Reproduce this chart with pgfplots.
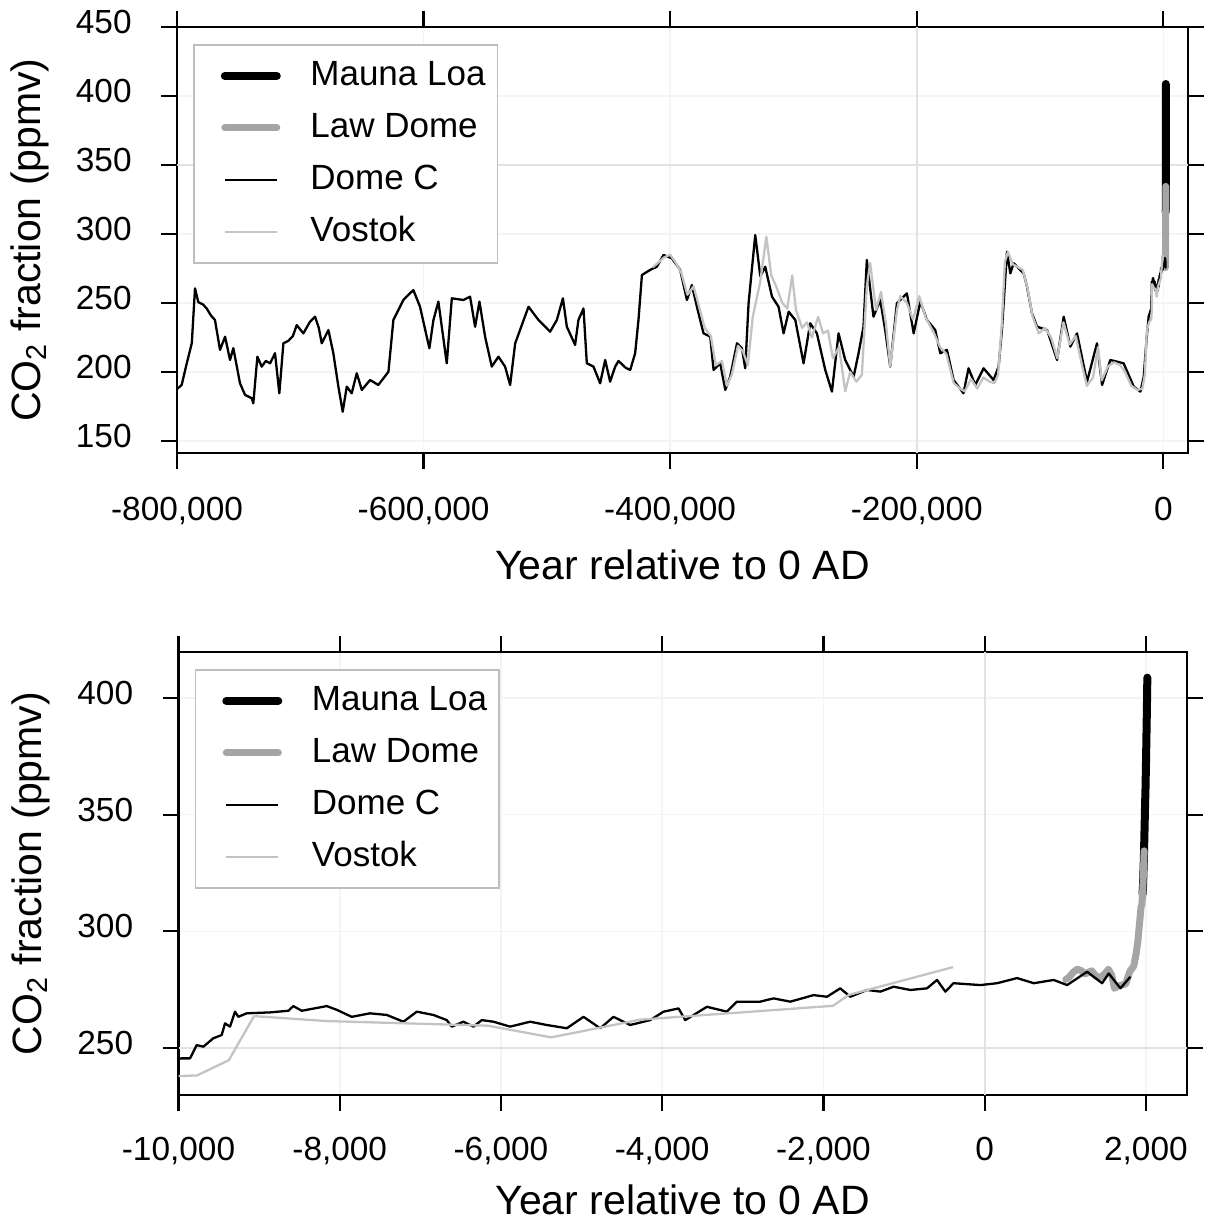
\documentclass[border=0pt]{standalone}
\usepackage{fontspec}
\setmainfont{Liberation Sans}
\usepackage{pgfplots}
\usepackage{pgfplotstable}
\pgfplotsset{compat=1.18}
\definecolor{lawdome}{RGB}{165,165,165}
\definecolor{vostokc}{RGB}{195,195,195}
\definecolor{gridc}{RGB}{244,244,244}
\definecolor{gridd}{RGB}{226,226,226}
\definecolor{legbox}{RGB}{190,190,190}

\pgfplotstableread{
year co2
1959 315.98
1960 316.91
1965 320.04
1970 325.68
1975 331.11
1980 338.76
1985 346.35
1990 354.39
1995 360.82
2000 369.65
2005 379.80
2010 389.90
2015 401.01
2018 408.72
}\maunaloa

\pgfplotstableread{
year co2
1006 279.4
1046 280.3
1096 282.4
1146 283.8
1196 283.2
1246 281.8
1327 283.1
1387 280.6
1437 280.4
1497 282.0
1535 283.8
1577 281.1
1610 275.6
1650 276.6
1700 277.0
1750 277.5
1800 282.8
1850 285.2
1880 290.7
1900 295.7
1920 303.0
1940 310.5
1950 311.3
1960 316.7
1970 325.2
1978 334.5
}\lawdome

\pgfplotstableread{
year co2
-799500 188
-796200 190.6
-792100 206.3
-788000 220.8
-785400 260.6
-782700 250.6
-779000 249
-775900 246
-772500 241
-769200 237.7
-765100 216
-761000 225.6
-757000 208.7
-754300 217.3
-748900 191.8
-744800 183.4
-739400 181
-738100 177.3
-734800 211.1
-731300 203.9
-728000 208
-724500 206.3
-720500 213.6
-717000 184.6
-713700 220.8
-709700 222.6
-706000 226
-702900 234
-697500 228
-692100 236.5
-688000 240.1
-685000 232
-682600 220.8
-677200 230.4
-673200 213.6
-669100 189.4
-665600 171.2
-662300 189.4
-658300 184.6
-654200 199.1
-650100 187
-643400 194.2
-636700 190.6
-628500 200.2
-624500 237.7
-616400 252.2
-608300 259.4
-602900 247.3
-595300 217.2
-592000 237.7
-588000 251
-581200 206.3
-577100 253.4
-567700 252.2
-562300 254.6
-558200 232.8
-554700 251
-550100 225.6
-544700 203.9
-539300 211.1
-533900 203.9
-529800 190.6
-525700 220.8
-514900 247.3
-506800 237.7
-497400 229.2
-491900 237.7
-487000 253.4
-483800 232.8
-477100 219.6
-474400 237.7
-470300 246
-467600 206.3
-462200 203.9
-456800 191.8
-452700 208.7
-448700 193
-444600 203.9
-441900 208
-436000 203
-432400 201.5
-428400 213.6
-425700 237.7
-422900 270.3
-416200 274
-410800 276.3
-405400 284.8
-398600 282.4
-391900 274
-386400 252.2
-382400 263
-378300 247.3
-372900 228
-367500 225.6
-364800 201.5
-359400 206.3
-355300 187
-351300 196.6
-345800 220.8
-341800 217.2
-339100 202.7
-336400 249.8
-331000 299.3
-326900 269.4
-322900 276.3
-317400 254.6
-312100 247.3
-308000 228
-303900 243.7
-298500 237.7
-291800 206.3
-286400 235.3
-281000 228
-274200 201.5
-268800 185.8
-263400 228
-258000 208.7
-251200 196.6
-247200 213.6
-243200 232.8
-240500 281.2
-235100 240.1
-229600 252.2
-225600 230.4
-221500 203.9
-216100 249.8
-208000 257
-202500 228
-197100 251
-191700 237.7
-185000 230.4
-180900 213.6
-175500 216
-170100 194.2
-162100 184.6
-158000 202.7
-152500 190.6
-145800 202.7
-137700 194.2
-133600 203.9
-130900 230.4
-126800 287.2
-124100 271.5
-121400 278.8
-113300 271.5
-110600 261.9
-106500 242.5
-102400 232.8
-94300 230.4
-86200 208.7
-80800 240.1
-75400 218.4
-70000 228
-61900 193
-53800 220.8
-49700 190.6
-43000 208.7
-32200 206.3
-24000 189.4
-18600 185.8
-15900 196.6
-13500 225
-11900 240.1
-9960 245.6
-9857 245.6
-9774 251.3
-9692 250.6
-9568 254.2
-9464 255.6
-9423 260.6
-9361 259.2
-9299 265.6
-9258 263.4
-9154 264.9
-8864 265.3
-8637 266
-8575 268
-8471 266
-8161 268
-8037 266.4
-7851 263.4
-7624 264.9
-7416 264.2
-7210 261.3
-7044 265.6
-6838 264.2
-6672 262
-6610 259.2
-6466 261.3
-6342 259.2
-6237 262
-6093 261.3
-5886 259.2
-5638 261.3
-5431 259.9
-5183 258.5
-4976 263.4
-4769 258.5
-4604 263.4
-4397 259.9
-4149 262
-3984 265.6
-3797 267
-3714 262
-3445 267.7
-3197 265.6
-3073 269.9
-2784 269.9
-2619 271.3
-2411 269.9
-2122 272.7
-1956 272
-1791 275.6
-1667 272
-1459 274.9
-1294 274.2
-1129 276.3
-922 274.9
-715 275.6
-591 279.2
-488 274.2
-385 277.8
-53 277
154 277.8
402 280
609 277.8
856 279.2
1023 277
1271 282.7
1457 277.8
1539 282
1684 275.6
1808 280.6
}\domec

\pgfplotstableread{
year co2
-414000 276
-410000 279
-405000 283
-400000 285
-396000 280
-391000 272
-386000 256
-381000 262
-377000 249
-372000 232
-367000 226
-363000 205
-358000 208
-354000 190
-350000 198
-345000 219
-341000 215
-337000 205
-333000 240
-327000 265
-322000 298
-318000 270
-314000 262
-309000 250
-305000 246
-301000 270
-298000 245
-293000 232
-289000 236
-285000 225
-280000 240
-276000 228
-272000 230
-268000 210
-263000 218
-258000 186
-254000 200
-249000 193
-244500 198
-240500 262
-237800 279
-233000 245
-229000 258
-225000 235
-221500 204
-216000 245
-213400 255
-208000 250
-203000 238
-198000 255
-193000 240
-186000 228
-181000 218
-176000 213
-170000 192
-165000 188
-161000 186
-156000 195
-151000 188
-146000 196
-141000 193
-137000 192
-134000 198
-131000 235
-128500 280
-126000 287
-122000 278
-118000 276
-114000 274
-110000 260
-106000 240
-101000 228
-96000 232
-91000 225
-86000 210
-81000 236
-76000 220
-71000 226
-66000 205
-62000 190
-57000 196
-53000 218
-50000 194
-45000 204
-40000 207
-35000 205
-31000 200
-26000 190
-21000 187
-17000 188
-15000 198
-13400 230
-11455 236.2
-9769 238.3
-9376 244.8
-9063 263.7
-8173 261.6
-6163 259.6
-5377 254.6
-4270 262.2
-1883 268.1
-1684 272.8
-392 284.7
}\vostok

\pgfplotsset{
  legend image code/.code={\path (-7.5pt,0pt); \draw[#1] (0pt,0pt) -- (26pt,0pt);},
  co2axis/.style={
    scale only axis,
    scaled ticks=false,
    axis line style={line width=1.2pt},
    tick style={line width=1.1pt, black},
    major tick length=8pt,
    tick align=outside,
    grid=major,
    major grid style={gridc, line width=0.8pt},
    tick label style={font=\fontsize{16.7}{16.7}\selectfont},
    label style={font=\fontsize{20.5}{20.5}\selectfont},
    yticklabel style={anchor=east, inner sep=0pt, xshift=-14.5pt, yshift=2.5pt},
    xticklabel style={anchor=base, inner sep=0pt},
    ylabel={CO\textsubscript{2} fraction (ppmv)},
    xlabel={Year relative to 0 AD},
    legend cell align=left,
    legend style={at={(0,1)}, anchor=north west, xshift=8pt, yshift=-8.5pt,
      draw=legbox, line width=0.8pt, inner xsep=6pt, inner ysep=2.5pt,
      font=\fontsize{17.5}{17.5}\selectfont,
      nodes={inner sep=0pt, text height=17.8pt, text depth=8.2pt},
      row sep=0pt,
      /tikz/every odd column/.append style={column sep=14.8pt}},
    extra tick style={major grid style={gridd, line width=1pt}, major tick length=0pt},
  },
  ml/.style={black, line width=4pt, line cap=round},
  ld/.style={lawdome, line width=3.5pt, line cap=round, line join=round},
  dc/.style={black, line width=1.15pt, line join=round},
  vk/.style={vostokc, line width=1.15pt, line join=round},
}

\begin{document}
\begin{tikzpicture}
\useasboundingbox (0,0) rectangle (605pt,-611.5pt);
\begin{axis}[co2axis,
  at={(88.5pt,-13.5pt)}, anchor=north west,
  width=505.5pt, height=213pt,
  xmin=-800000, xmax=20000, ymin=141.3, ymax=450,
  xticklabel style={yshift=-25.5pt},
  xtick={-800000,-600000,-400000,-200000,0},
  xticklabels={{-800,000},{-600,000},{-400,000},{-200,000},0},
  ytick={150,200,250,300,350,400,450},
  yticklabels={150,200,250,300,350,400,450},
  extra x ticks={-200000}, extra x tick labels={},
  extra y ticks={350}, extra y tick labels={},
  xlabel style={at={([yshift=-56pt]axis description cs:0.5,0)}, anchor=center},
  ylabel style={at={([xshift=-73.5pt]axis description cs:0,0.5)}, anchor=center},
]
\addplot[ml] table[x=year,y=co2] {\maunaloa};
\addplot[ld] table[x=year,y=co2] {\lawdome};
\addplot[dc] table[x=year,y=co2] {\domec};
\addplot[vk] table[x=year,y=co2] {\vostok};
\legend{Mauna Loa, Law Dome, Dome C, Vostok}
\end{axis}

\begin{axis}[co2axis,
  at={(89.25pt,-326pt)}, anchor=north west,
  width=504.25pt, height=221.5pt,
  xmin=-10000, xmax=2510, ymin=229.9, ymax=419.7,
  restrict x to domain=-12000:3000,
  xticklabel style={yshift=-24.5pt},
  xtick={-10000,-8000,-6000,-4000,-2000,0,2000},
  xticklabels={{-10,000},{-8,000},{-6,000},{-4,000},{-2,000},0,{2,000}},
  ytick={250,300,350,400},
  yticklabels={250,300,350,400},
  extra x ticks={0}, extra x tick labels={},
  extra y ticks={250}, extra y tick labels={},
  xlabel style={at={([yshift=-52.5pt]axis description cs:0.5,0)}, anchor=center},
  ylabel style={at={([xshift=-74pt]axis description cs:0,0.5)}, anchor=center},
]
\addplot[ml] table[x=year,y=co2] {\maunaloa};
\addplot[ld] table[x=year,y=co2] {\lawdome};
\addplot[dc] table[x=year,y=co2] {\domec};
\addplot[vk] table[x=year,y=co2] {\vostok};
\legend{Mauna Loa, Law Dome, Dome C, Vostok}
\end{axis}
\end{tikzpicture}
\end{document}
